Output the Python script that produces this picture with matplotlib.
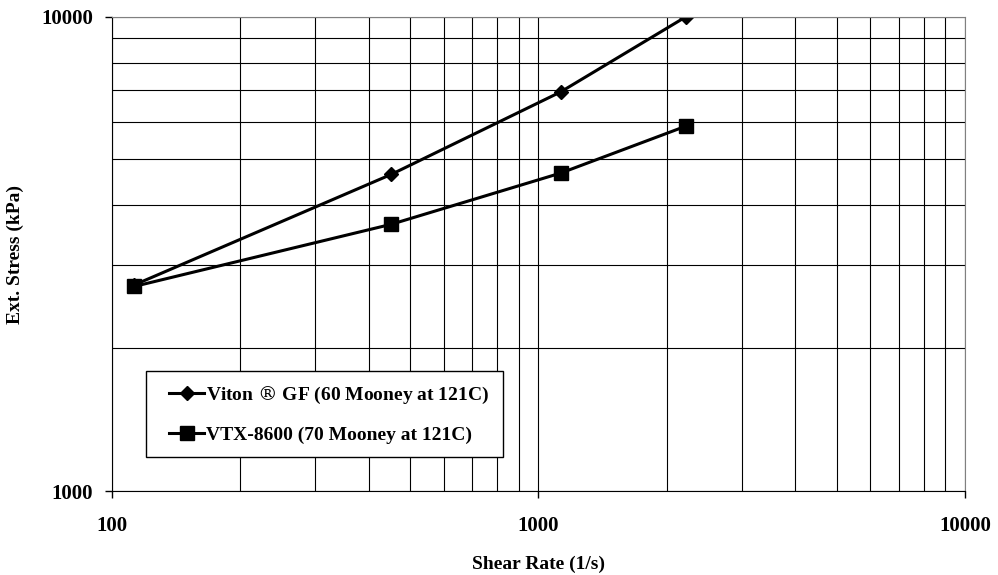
import matplotlib
matplotlib.use("Agg")
import matplotlib.pyplot as plt
from matplotlib.lines import Line2D
from matplotlib.legend_handler import HandlerLine2D
from matplotlib.ticker import FixedLocator, NullFormatter

shear_rate = [113, 452, 1128, 2220]
viton_gf = [2720, 4650, 6940, 10000]
vtx_8600 = [2700, 3650, 4680, 5880]
series_labels = ["Viton $\\mathrm{\u00ae}$ GF (60 Mooney at 121C)", "VTX-8600 (70 Mooney at 121C)"]
x_ticks = [100, 1000, 10000]
y_ticks = [1000, 10000]

plt.rcParams['font.family'] = ['Liberation Serif', 'DejaVu Serif']
plt.rcParams['mathtext.fontset'] = 'dejavuserif'

fig = plt.figure(figsize=(9.98, 5.75), dpi=100)
ax = fig.add_axes([0.1119, 0.146, 0.8550, 0.825])
ax.set_xscale('log')
ax.set_yscale('log')
ax.set_xlim(100, 10000)
ax.set_ylim(1000, 10000)

minor_x = [m * d for d in (100, 1000) for m in range(2, 10)]
minor_y = [m * 1000 for m in range(2, 10)]
ax.xaxis.set_major_locator(FixedLocator(x_ticks))
ax.yaxis.set_major_locator(FixedLocator(y_ticks))
ax.xaxis.set_minor_locator(FixedLocator(minor_x))
ax.yaxis.set_minor_locator(FixedLocator(minor_y))
ax.xaxis.set_minor_formatter(NullFormatter())
ax.yaxis.set_minor_formatter(NullFormatter())
ax.set_xticklabels([str(v) for v in x_ticks], fontweight='bold', fontsize=15)
ax.set_yticklabels([str(v) for v in y_ticks], fontweight='bold', fontsize=15)
ax.tick_params(which='major', direction='out', length=5, width=1, color='black')
ax.tick_params(axis='x', which='major', pad=13)
ax.tick_params(axis='y', which='major', pad=8.5)
ax.tick_params(which='minor', length=0)

ax.grid(True, which='both', axis='both', color='black', linewidth=0.8)
ax.set_axisbelow(True)
for s in ('top', 'right'):
    ax.spines[s].set_color('#808080')
for s in ('left', 'bottom'):
    ax.spines[s].set_color('black')

ax.plot(shear_rate, viton_gf, color='black', linewidth=2.2, marker='D', markersize=7,
        label=series_labels[0])
ax.plot(shear_rate, vtx_8600, color='black', linewidth=2.2, marker='s', markersize=9.5,
        label=series_labels[1])

ax.set_xlabel('Shear Rate (1/s)', fontweight='bold', fontsize=14, labelpad=14)
fig.text(15 / 998, 1 - 254 / 575, 'Ext. Stress (kPa)', fontweight='bold', fontsize=14,
         rotation=90, ha='center', va='center')

leg = ax.legend(loc='upper left', bbox_to_anchor=(0.0402, 0.253), borderaxespad=0,
                prop={'weight': 'bold', 'size': 14},
                frameon=True, fancybox=False, edgecolor='black', framealpha=1,
                handlelength=2.3, handletextpad=0.1, labelspacing=1.05, borderpad=0.7,
                handler_map={Line2D: HandlerLine2D(xpad=0.5)})
leg.get_frame().set_linewidth(1)

fig.savefig('out.png', dpi=100)
